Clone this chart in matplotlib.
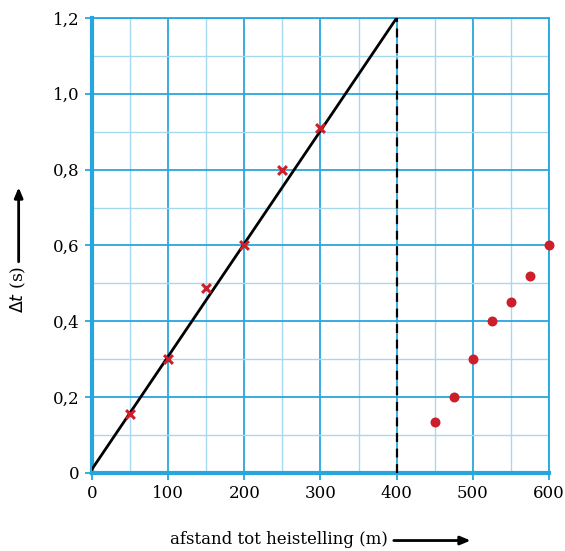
import numpy as np
import matplotlib.pyplot as plt
from matplotlib.ticker import MultipleLocator, FuncFormatter

# meetpunten (kruisjes)
x_kruis = [50, 100, 150, 200, 250, 300]
y_kruis = [0.155, 0.30, 0.487, 0.60, 0.80, 0.91]

# meetpunten voorbij 400 m (stippen)
x_stip = [450, 475, 500, 525, 550, 575, 600]
y_stip = [0.135, 0.20, 0.30, 0.40, 0.45, 0.52, 0.60]

# rechte lijn
x_lijn = [0, 400]
y_lijn = [0.01, 1.2]

blauw = '#27a6de'
lichtblauw = '#a6d8f0'
rood = '#cc1f2a'

plt.rcParams['font.family'] = ['DejaVu Serif']

fig = plt.figure(figsize=(5.65, 5.51), dpi=100)
ax = fig.add_axes([0.1628, 0.1416, 0.8089, 0.8258])

ax.set_xlim(0, 600)
ax.set_ylim(0, 1.2)
ax.xaxis.set_major_locator(MultipleLocator(100))
ax.xaxis.set_minor_locator(MultipleLocator(50))
ax.yaxis.set_major_locator(MultipleLocator(0.2))
ax.yaxis.set_minor_locator(MultipleLocator(0.1))

ax.grid(which='minor', color=lichtblauw, lw=1.0)
ax.grid(which='major', color=blauw, lw=1.3)
ax.set_axisbelow(True)

for s in ['top', 'right']:
    ax.spines[s].set_color(blauw)
    ax.spines[s].set_linewidth(1.3)
for s in ['left', 'bottom']:
    ax.spines[s].set_color(blauw)
    ax.spines[s].set_linewidth(3)

ax.tick_params(which='major', length=5, width=1.3, color=blauw, labelsize=12, pad=4)
ax.tick_params(which='minor', length=0)

ax.yaxis.set_major_formatter(FuncFormatter(lambda v, p: '0' if abs(v) < 1e-9 else f'{v:.1f}'.replace('.', ',')))
ax.xaxis.set_major_formatter(FuncFormatter(lambda v, p: f'{v:.0f}'))

ax.plot(x_lijn, y_lijn, color='black', lw=2, zorder=3)
ax.plot([400, 400], [0, 1.2], color='black', lw=1.6, ls=(0, (4, 3)), zorder=3)

ax.scatter(x_kruis, y_kruis, marker='x', s=40, color=rood, linewidths=2.2, zorder=4, clip_on=False)
ax.scatter(x_stip, y_stip, marker='o', s=38, color=rood, zorder=4, clip_on=False)

# aslabels met pijlen
fig.text(0.301, 0.021, 'afstand tot heistelling (m)', fontsize=12, ha='left', va='center')
ax.annotate('', xy=(0.833, 0.019), xytext=(0.697, 0.019), xycoords='figure fraction',
            textcoords='figure fraction', annotation_clip=False,
            arrowprops=dict(arrowstyle='-|>,head_length=0.6,head_width=0.25', color='black', lw=2,
                            shrinkA=0, shrinkB=0))

fig.text(0.033, 0.474, r'$\Delta t$ (s)', fontsize=12.5, rotation=90, ha='center', va='center')
ax.annotate('', xy=(0.033, 0.66), xytext=(0.033, 0.525), xycoords='figure fraction',
            textcoords='figure fraction', annotation_clip=False,
            arrowprops=dict(arrowstyle='-|>,head_length=0.6,head_width=0.25', color='black', lw=2,
                            shrinkA=0, shrinkB=0))

fig.savefig('out.png', dpi=100)
